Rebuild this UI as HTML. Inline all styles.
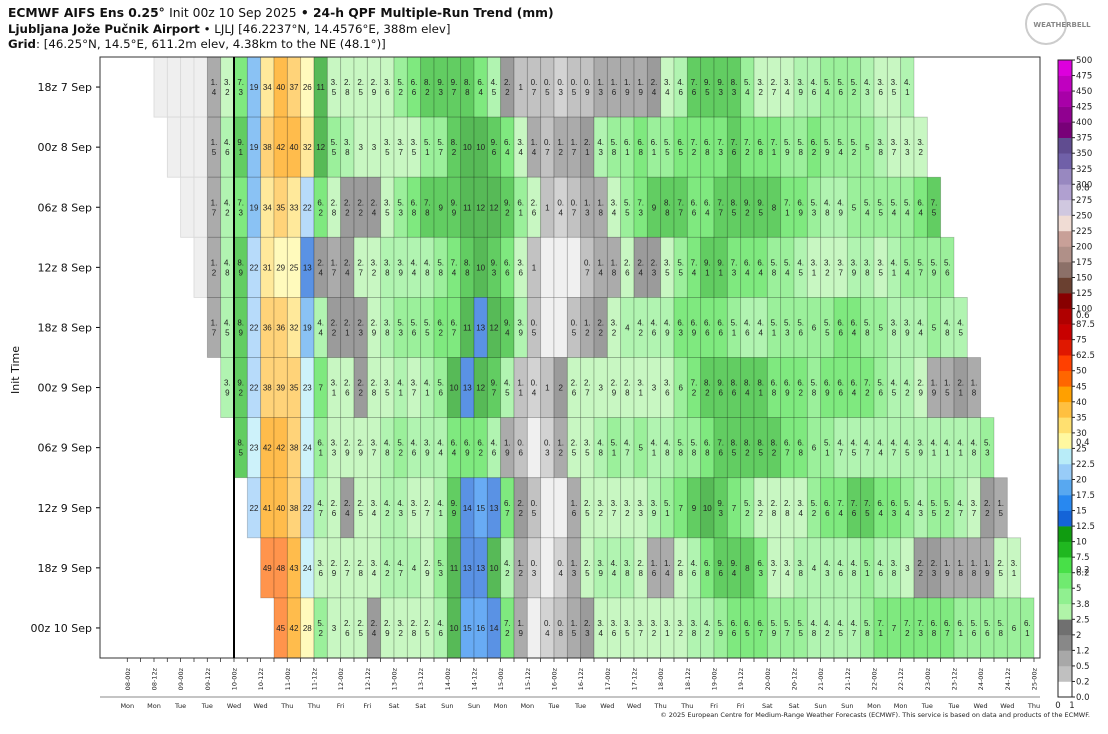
<!DOCTYPE html>
<html><head><meta charset="utf-8"><style>
body{margin:0;background:#fff;width:1108px;height:730px;overflow:hidden;font-family:"DejaVu Sans",sans-serif}
</style></head><body>
<svg id="s" width="1108" height="730" xmlns="http://www.w3.org/2000/svg" font-family="DejaVu Sans, sans-serif">
<text x="8" y="17" font-size="12.3" font-weight="bold" fill="#111">ECMWF AIFS Ens 0.25° <tspan font-weight="normal">Init 00z 10 Sep 2025</tspan> • 24-h QPF Multiple-Run Trend (mm)</text>
<text x="8" y="33" font-size="11.8" fill="#111"><tspan font-weight="bold">Ljubljana Jože Pučnik Airport</tspan> • LJLJ [46.2237°N, 14.4576°E, 388m elev]</text>
<text x="8" y="48" font-size="11.8" fill="#111"><tspan font-weight="bold">Grid</tspan>: [46.25°N, 14.5°E, 611.2m elev, 4.38km to the NE (48.1°)]</text>
<circle cx="1046" cy="24" r="20" fill="none" stroke="#ccc" stroke-width="2"/>
<text x="1062" y="27" font-size="7" font-weight="bold" fill="#888" text-anchor="middle">WEATHERBELL</text>
<text transform="translate(19,370) rotate(-90)" font-size="11" text-anchor="middle" fill="#111">Init Time</text>
<text x="1090" y="717" font-size="6.5" text-anchor="end" fill="#222">© 2025 European Centre for Medium-Range Weather Forecasts (ECMWF). This service is based on data and products of the ECMWF.</text>
<g id="g"></g>
</svg>
<script>
const bounds=[0,0.2,0.5,1.2,2,2.5,3.8,5,6.2,7.5,10,12.5,15,17.5,20,22.5,25,30,35,40,45,50,62.5,75,87.5,100,125,150,175,200,225,250,275,300,325,350,375,400,425,450,475,500];
const cols=["#ffffff","#c0c0c0","#a8a8a8","#888888","#707070","#b0f4a8","#90f090","#70ea70","#48e048","#20b820","#109c10","#1464d8","#2888f0","#58a8f0","#98ccf8","#b8ecf8","#fff8a0","#ffe070","#ffc040","#ffa000","#ff6600","#ff4000","#e01800","#c80000","#b00000","#880000","#6a4030","#8c7068","#b09088","#c8a098","#f0dcd4","#d0c8e0","#b0a0d0","#9888c0","#7060a8","#604c90","#780078","#900090","#a800a8","#c000c0","#dd00dd"];
function col(v){let i=0;while(i<cols.length-1&&v>=bounds[i+1])i++;return cols[i];}
const rows=[
{n:"18z 7 Sep",f:-6,pre:[1.4,3.2],s:0,d:[7.3,19,34,40,37,26,11,3.5,2.8,2.5,2.9,3.6,5.2,6.6,8.2,9.3,9.7,8.8,6.4,4.5,2.2,1,0.7,0.5,0.3,0.5,0.9,1.3,1.6,1.9,1.9,2.4,3.4,4.6,7.6,9.5,9.3,8.3,5.4,3.2,2.7,3.4,3.9,4.6,5.4,5.6,5.2,4.3,3.6,3.5,4.1]},
{n:"00z 8 Sep",f:-5,pre:[1.5,4.6],s:0,d:[9.1,19,38,42,40,32,12,5.5,3.8,3,3,3.5,3.7,3.5,5.1,5.7,8.2,10,10,9.6,6.4,3.4,1.4,0.7,1.2,1.7,2.1,4.3,5.8,6.1,6.8,6.1,5.5,6.5,7.2,6.8,7.3,7.6,7.2,6.8,7.1,5.9,5.8,6.2,5.9,5.4,5.2,5,3.8,3.7,3.3,3.2]},
{n:"06z 8 Sep",f:-4,pre:[1.7,4.2],s:0,d:[7.3,19,34,35,33,22,6.2,2.8,2.2,2.2,2.4,3.5,5.3,6.8,7.8,9,9.9,11,12,12,9.2,6.1,2.6,1,0.4,0.7,1.3,1.8,3.4,5.5,7.3,9,8.8,7.7,6.6,6.4,7.7,8.5,9.2,9.5,8,7.1,6.9,5.3,4.8,4.9,5,5.4,5.5,5.4,5.4,6.4,7.5]},
{n:"12z 8 Sep",f:-3,pre:[1.2,4.8],s:0,d:[8.9,22,31,29,25,13,2.4,1.7,2.4,2.7,3.2,3.8,3.9,4.4,4.8,5.8,7.4,8.8,10,9.3,6.6,3.6,1,0,0,0,0.7,1.4,1.8,2.6,2.4,2.3,3.5,5.5,7.4,9.1,9.1,7.3,6.4,6.4,5.8,5.4,4.5,3.1,3.2,3.7,3.9,3.8,3.5,4.1,5.4,5.7,5.9,5.6]},
{n:"18z 8 Sep",f:-2,pre:[1.7,4.5],s:0,d:[8.9,22,36,36,32,19,4.4,2.2,2.1,2.3,2.9,3.8,5.3,5.6,5.5,6.2,6.7,11,13,12,9.4,3.9,0.5,0,0,0.5,1.2,2.2,3.2,4,4.2,4.6,4.9,6.3,6.9,6.6,6.6,5.1,4.6,4.4,5.1,5.3,5.6,6,5.5,6.6,6.4,5.8,5,3.8,3.9,4.4,5,4.8,4.5]},
{n:"00z 9 Sep",f:-1,pre:[3.9],s:0,d:[9.2,22,38,39,35,23,7,3.1,2.6,2.2,2.8,3.5,4.1,3.7,4.1,5.6,10,13,12,9.7,4.5,1.1,0.4,1,2,2.6,2.7,3,2.9,2.8,3.1,3,3.6,6,7.2,8.2,9.6,8.6,8.4,8.1,6.8,6.9,6.2,5.8,6.9,6.6,6.4,7.2,5.6,4.5,4.2,2.9,1.9,1.5,2.1,1.8]},
{n:"06z 9 Sep",f:0,pre:[],s:0,d:[8.5,23,42,42,38,24,6.1,3.3,2.9,2.9,3.7,4.8,5.2,4.6,3.9,4.4,6.4,6.9,6.2,4.6,1.9,0.6,0,0.3,1.2,2.5,3.5,4.8,5.1,4.7,5,4.1,4.8,5.8,5.8,6.8,7.6,8.5,8.2,8.5,8.2,6.7,6.8,6,5.1,4.7,4.5,4.7,4.4,4.7,4.5,3.9,4.1,4.1,4.1,4.8,5.3]},
{n:"12z 9 Sep",f:1,pre:[],s:1,d:[22,41,40,38,22,4.7,2.6,2.4,2.5,3.4,4.2,4.3,3.5,2.7,4.1,9.9,14,15,13,6.7,2.2,0.5,0,0,1.6,2.5,3.2,3.7,3.2,3.3,3.9,5.1,7,9,10,9.3,7,5.2,3.2,2.8,2.8,3.4,5.2,6.6,7.4,7.6,7.5,6.4,6.3,5.4,4.3,5.5,5.2,4.7,3.7,2.2,1.5]},
{n:"18z 9 Sep",f:2,pre:[],s:2,d:[49,48,43,24,3.6,2.9,2.7,2.8,3.4,4.2,4.7,4,2.9,5.3,11,13,13,10,4.2,1.2,0.3,0,0.4,1.3,2.5,3.9,4.4,3.8,2.8,1.6,1.4,2.8,4.6,6.8,9.6,9.4,8,6.3,3.7,3.4,3.8,4,4.3,4.6,4.8,5.1,4.6,3.8,3,2.2,2.3,1.9,1.8,1.8,1.9,2.5,3.1]},
{n:"00z 10 Sep",f:3,pre:[],s:3,d:[45,42,28,5.2,3,2.6,2.5,2.4,2.9,3.2,2.8,2.5,4.6,10,15,16,14,7.2,1.9,0,0.4,0.8,1.5,2.3,3.4,3.6,3.5,3.7,3.2,3.1,3.2,3.8,4.2,5.9,6.6,6.5,6.7,5.9,5.7,5.5,4.8,4.2,4.5,4.7,5.8,7.1,7,7.2,7.3,6.8,6.7,6.1,5.6,5.6,5.8,6,6.1]}
];
const X0=234,W=40/3,Y0=57,H=60.1;
let h="";
function cell(c,r,v,faint){
 const x=X0+c*W,y=Y0+r*H;
 let fill=faint?"#efefef":(v==0?"#f0f0f0":col(v));
 let op=faint||v==0?1:0.7;
 h+=`<rect x="${x.toFixed(2)}" y="${y.toFixed(2)}" width="${W.toFixed(2)}" height="${H.toFixed(2)}" fill="${fill}" fill-opacity="${op}" stroke="${faint?'#d8d8d8':'rgba(0,0,0,0.22)'}" stroke-width="0.8"/>`;
 if(faint||v==0)return;
 const cx=x+W/2,cy=y+H/2;
 const ff='font-family="Liberation Sans, sans-serif"';
 if(v>=10||Number.isInteger(v)){
  h+=`<text ${ff} x="${cx.toFixed(1)}" y="${(cy+3).toFixed(1)}" font-size="8" text-anchor="middle" fill="#222">${Math.round(v)}</text>`;
 }else{
  const s=v.toFixed(1).split(".");
  h+=`<text ${ff} x="${cx.toFixed(1)}" y="${(cy-2).toFixed(1)}" font-size="8" text-anchor="middle" fill="#222">${s[0]}.</text><text ${ff} x="${cx.toFixed(1)}" y="${(cy+8).toFixed(1)}" font-size="8" text-anchor="middle" fill="#222">${s[1]}</text>`;
 }
}
rows.forEach((R,r)=>{
 const np=R.pre.length;
 for(let c=R.f;c<-np;c++)cell(c,r,0,true);
 R.pre.forEach((v,i)=>cell(-np+i,r,v,false));
 R.d.forEach((v,i)=>cell(R.s+i,r,v,false));
 const y=Y0+r*H+H/2;
 h+=`<text x="92" y="${(y+4).toFixed(1)}" font-size="11" text-anchor="end" fill="#111">${R.n}</text><line x1="96" x2="100" y1="${y}" y2="${y}" stroke="#000"/>`;
});
h+=`<rect x="100" y="57" width="940" height="601" fill="none" stroke="#333" stroke-width="1"/>`;
h+=`<line x1="234" x2="234" y1="57" y2="658" stroke="#000" stroke-width="2"/>`;
const days=["Mon","Tue","Wed","Thu","Fri","Sat","Sun"];
for(let k=0;k<=68;k++){
 const x=127.3+k*W;
 h+=`<line x1="${x.toFixed(1)}" x2="${x.toFixed(1)}" y1="658" y2="662" stroke="#333" stroke-width="0.8"/>`;
 if(k%2==0){
  const d=8+Math.floor(k/4),hh=(k%4==0)?"00z":"12z";
  const lab=String(d).padStart(2,"0")+"-"+hh;
  h+=`<text transform="translate(${(x+2.5).toFixed(1)},668) rotate(-90)" font-size="6.5" text-anchor="end" fill="#222">${lab}</text>`;
  h+=`<text x="${x.toFixed(1)}" y="708" font-size="6.5" text-anchor="middle" fill="#222">${days[Math.floor(k/4)%7]}</text>`;
 }
}
h+=`<line x1="100" x2="1040" y1="697" y2="697" stroke="#888" stroke-width="1"/>`;
const cbT=60,cbB=697,n=cols.length,bh=(cbB-cbT)/n;
for(let i=0;i<n;i++){
 const y=cbB-(i+1)*bh;
 h+=`<rect x="1058" y="${y.toFixed(2)}" width="14" height="${(bh+0.3).toFixed(2)}" fill="${cols[i]}"/>`;
}
h+=`<rect x="1058" y="${cbT}" width="14" height="${cbB-cbT}" fill="none" stroke="#222" stroke-width="1"/>`;
bounds.forEach((b,i)=>{
 const y=cbB-i*bh;
 h+=`<text x="1076" y="${(y+3).toFixed(1)}" font-size="8.5" fill="#222">${i==0?"0.0":b}</text><line x1="1072" x2="1075" y1="${y}" y2="${y}" stroke="#222"/>`;
});
[["0.2",cbB-0.2*(cbB-cbT)],["0.4",cbB-0.4*(cbB-cbT)],["0.6",cbB-0.6*(cbB-cbT)],["0.8",cbB-0.8*(cbB-cbT)]].forEach(a=>{
 h+=`<text x="1076" y="${(a[1]+3).toFixed(1)}" font-size="8.5" fill="#222">${a[0]}</text>`;
});
h+=`<text x="1058" y="708" font-size="8.5" text-anchor="middle" fill="#222">0</text><text x="1072" y="708" font-size="8.5" text-anchor="middle" fill="#222">1</text>`;
document.getElementById("g").innerHTML=h;
</script>
</body></html>
